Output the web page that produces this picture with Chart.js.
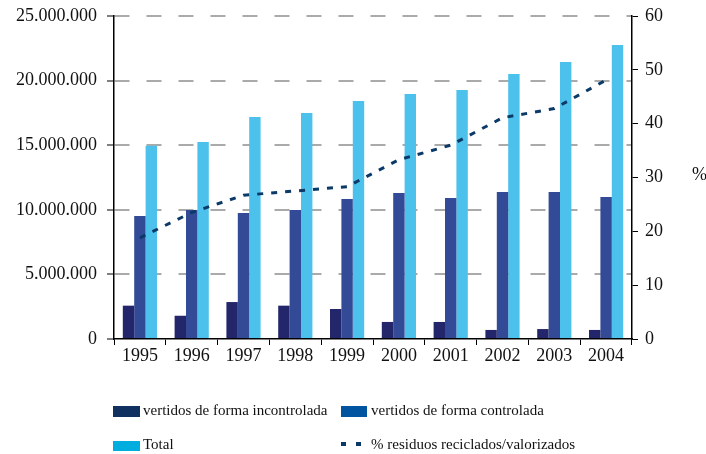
<!DOCTYPE html>
<html>
<head>
<meta charset="utf-8">
<script src="https://cdn.jsdelivr.net/npm/chart.js@4/dist/chart.umd.min.js"></script>
<style>
html,body{margin:0;padding:0;background:#fff;}
canvas{display:block;}
</style>
</head>
<body>
<canvas id="c" width="706" height="454" style="width:706px;height:454px"></canvas>
<script>
const years = ["1995","1996","1997","1998","1999","2000","2001","2002","2003","2004"];
const incontrolada = [2580000,1800000,2860000,2580000,2320000,1320000,1320000,700000,770000,700000];
const controlada = [9520000,9980000,9750000,9980000,10840000,11300000,10910000,11380000,11380000,10990000];
const total = [14960000,15250000,17180000,17490000,18420000,18960000,19270000,20510000,21440000,22760000];
const reciclados = [18.8,23.5,26.7,27.5,28.3,33.3,36.0,41.1,42.8,48.1];
const leftTicks = [0,5000000,10000000,15000000,20000000,25000000];
const rightTicks = [0,10,20,30,40,50,60];

const serif = "'Liberation Serif','DejaVu Serif',serif";

function fmt(v){
  return String(v).replace(/\B(?=(\d{3})+(?!\d))/g,".");
}

const legendPlugin = {
  id:'customLegend',
  afterDraw(chart){
    const ctx = chart.ctx;
    ctx.save();
    ctx.font = "15px " + serif;
    ctx.textBaseline = "middle";
    ctx.textAlign = "left";
    ctx.fillStyle = "#10305f"; ctx.fillRect(113,406,27,11);
    ctx.fillStyle = "#111"; ctx.fillText("vertidos de forma incontrolada",143,411.5);
    ctx.fillStyle = "#0054a0"; ctx.fillRect(341,406,26,11);
    ctx.fillStyle = "#111"; ctx.fillText("vertidos de forma controlada",371,411.5);
    ctx.fillStyle = "#00addf"; ctx.fillRect(113,441,27,10);
    ctx.fillStyle = "#111"; ctx.fillText("Total",143,445.5);
    ctx.fillStyle = "#0b3a68";
    ctx.fillRect(341,442,5,4);
    ctx.fillRect(356,442,5,4);
    ctx.fillStyle = "#111"; ctx.fillText("% residuos reciclados/valorizados",371,445.5);
    ctx.font = "18px " + serif;
    const ca = chart.chartArea;
    ctx.fillText("%",692,(ca.top+ca.bottom)/2-2);
    ctx.restore();
  }
};

function noPad(s){ s.paddingTop = 0; s.paddingBottom = 0; }

new Chart(document.getElementById('c'),{
  type:'bar',
  data:{
    labels:years,
    datasets:[
      {type:'line',label:'% residuos reciclados/valorizados',data:reciclados,yAxisID:'y2',
       borderColor:'#0b3a68',borderWidth:3,borderDash:[6,8],pointRadius:0,tension:0,fill:false,order:0},
      {label:'vertidos de forma incontrolada',data:incontrolada,backgroundColor:'#23266a',yAxisID:'y',order:1},
      {label:'vertidos de forma controlada',data:controlada,backgroundColor:'#334b96',yAxisID:'y',order:1},
      {label:'Total',data:total,backgroundColor:'#4cc1eb',yAxisID:'y',order:1}
    ]
  },
  options:{
    responsive:false,
    animation:false,
    layout:{padding:{top:16,bottom:85,left:0,right:0}},
    datasets:{bar:{categoryPercentage:0.66,barPercentage:1.0}},
    plugins:{legend:{display:false},tooltip:{enabled:false}},
    scales:{
      x:{
        afterFit(s){s.height=30; s.paddingLeft=0; s.paddingRight=0;},
        grid:{drawOnChartArea:false,drawTicks:true,tickLength:6,tickColor:'#000',offset:true},
        border:{display:true,color:'#000',width:1.5},
        ticks:{font:{family:serif,size:18},color:'#111',padding:0,maxRotation:0}
      },
      y:{
        position:'left',min:0,max:25000000,
        afterFit(s){s.width=114; noPad(s);},
        afterBuildTicks(s){s.ticks=leftTicks.map(v=>({value:v}));},
        grid:{color:(c)=> (c.index===0) ? 'rgba(0,0,0,0)' : '#aaaaaa',
              lineWidth:2,drawTicks:true,tickLength:7,tickColor:'#000',tickWidth:1,tickBorderDash:[]},
        border:{display:true,color:'#000',width:1.5,dash:[15,17]},
        ticks:{font:{family:serif,size:18},color:'#111',padding:10,callback:(v)=>fmt(v)}
      },
      y2:{
        position:'right',min:0,max:60,
        afterFit(s){s.width=74; noPad(s);},
        afterBuildTicks(s){s.ticks=rightTicks.map(v=>({value:v}));},
        grid:{drawOnChartArea:false,drawTicks:true,tickLength:6,tickColor:'#000',tickWidth:1},
        border:{display:true,color:'#000',width:1.5},
        ticks:{font:{family:serif,size:18},color:'#111',padding:7}
      }
    }
  },
  plugins:[legendPlugin]
});
</script>
</body>
</html>
